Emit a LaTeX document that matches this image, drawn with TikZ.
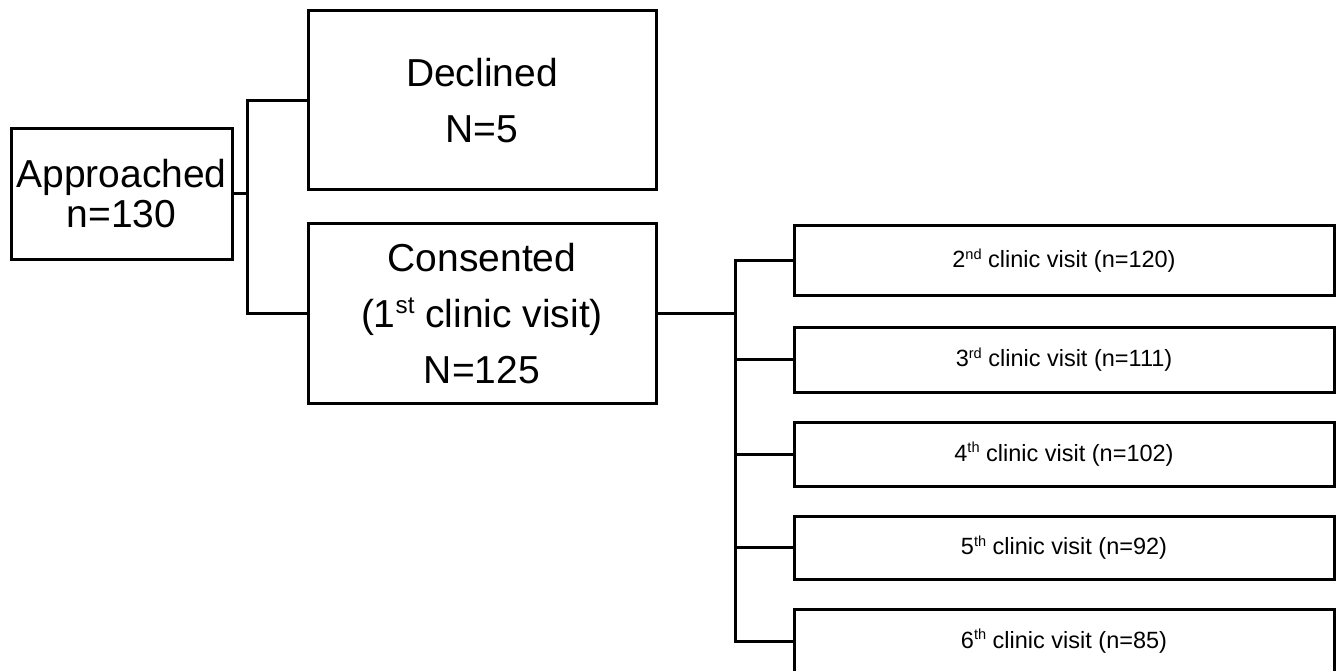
\documentclass[tikz,border=0pt]{standalone}
\usepackage{fontspec}
\setmainfont{Liberation Sans}
\newcommand\mysup[1]{\raisebox{0.36em}{\scalebox{0.62}{#1}}}
\tikzset{
  box/.style={draw=black, line width=3pt, rectangle, inner sep=0pt, align=center, fill=white},
  bigtxt/.style={font=\fontsize{39}{56}\selectfont},
  smalltxt/.style={font=\fontsize{23.5}{28}\selectfont},
  conn/.style={draw=black, line width=3pt},
}
\begin{document}
\begin{tikzpicture}[x=1pt,y=-1pt]
\clip (0,0) rectangle (1344,671);
\fill[white] (0,0) rectangle (1344,671);
\node[box, font=\fontsize{39}{40}\selectfont, minimum width=221pt, minimum height=130pt] (A) at (121.5,194) {Approached\\n=130};
\node[box, bigtxt, minimum width=348pt, minimum height=179pt] (D) at (482,100.5) {Declined\\N=5};
\node[box, bigtxt, minimum width=348pt, minimum height=180pt] (C) at (482,313.5) {Consented\\(1\mysup{st} clinic visit)\\N=125};
\node[box, smalltxt, minimum width=540pt, minimum height=70pt] (V1) at (1064,260.5) {2\mysup{nd} clinic visit (n=120)};
\node[box, smalltxt, minimum width=540pt, minimum height=65pt] (V2) at (1064,359.5) {3\mysup{rd} clinic visit (n=111)};
\node[box, smalltxt, minimum width=540pt, minimum height=64pt] (V3) at (1064,454) {4\mysup{th} clinic visit (n=102)};
\node[box, smalltxt, minimum width=540pt, minimum height=63pt] (V4) at (1064,547.5) {5\mysup{th} clinic visit (n=92)};
\node[box, smalltxt, minimum width=540pt, minimum height=64pt] (V5) at (1064,641) {6\mysup{th} clinic visit (n=85)};
\coordinate (j1) at (247,194);
\coordinate (j2) at (735,313.5);
\draw[conn] (A.east) -- (j1);
\draw[conn] (D.west) -| (j1) |- (C.west);
\draw[conn] (C.east) -- (j2);
\draw[conn] (V1.west) -| (j2) |- (V5.west);
\draw[conn] (V2.west) -- (V2.west -| j2);
\draw[conn] (V3.west) -- (V3.west -| j2);
\draw[conn] (V4.west) -- (V4.west -| j2);
\end{tikzpicture}
\end{document}
